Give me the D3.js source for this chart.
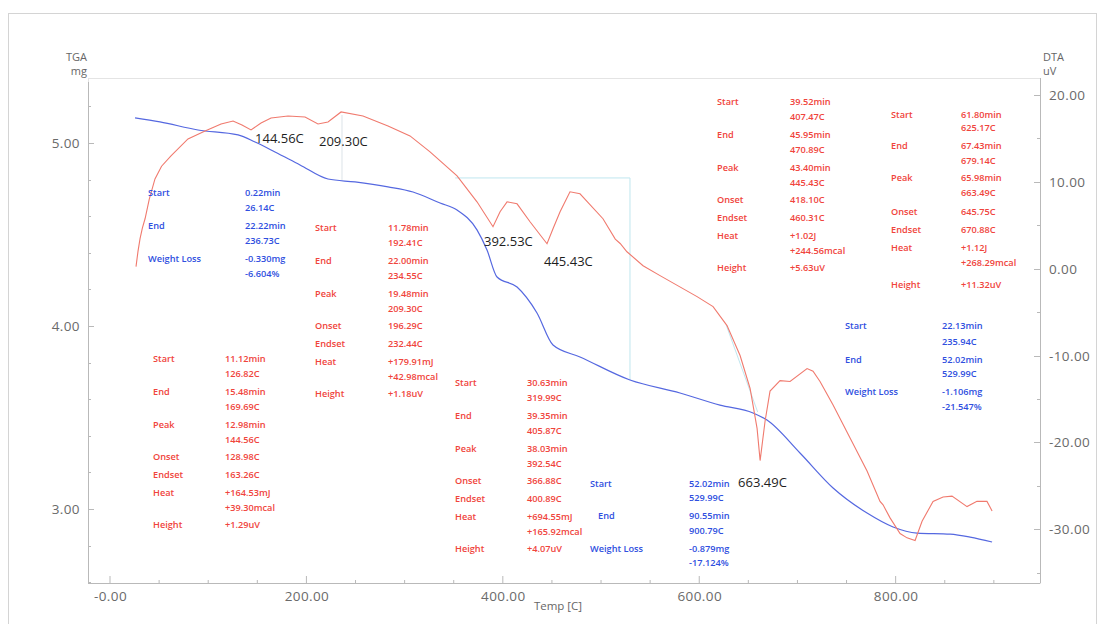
<!DOCTYPE html>
<html><head><meta charset="utf-8">
<script src="https://cdn.jsdelivr.net/npm/d3@7/dist/d3.min.js"></script>
<style>body{margin:0;background:#fff} svg{display:block}</style>
</head><body>
<svg id="c" width="1102" height="624"></svg>
<script>
// ---------- data ----------
const tgaTemp = [26.0,51.4,90.1,130.9,148.2,168.5,194.0,222.5,250.0,283.6,309.1,336.6,353.9,374.2,384.4,394.6,415.0,435.3,451.6,479.1,530.0,580.9,621.6,655.3,669.5,703.1,736.8,771.4,797.9,822.3,856.0,876.3,898.7];
const tgaMass = [5.137,5.115,5.071,5.044,5.005,4.951,4.880,4.803,4.787,4.760,4.732,4.672,4.634,4.525,4.415,4.268,4.213,4.071,3.896,3.831,3.705,3.634,3.568,3.525,3.486,3.306,3.115,2.978,2.902,2.869,2.863,2.847,2.820];
const dtaTemp = [27.0,29.0,31.1,33.5,36.2,40.5,46.3,53.0,62.6,79.9,97.3,113.6,125.8,134.9,144.1,154.3,164.5,181.8,199.1,212.3,222.5,235.8,258.1,283.6,306.0,326.4,353.9,374.2,390.5,397.7,404.8,415.0,428.2,445.5,451.6,458.8,468.9,479.1,502.5,515.0,520.0,526.9,543.3,560.6,598.3,614.6,628.8,642.1,652.3,659.4,662.5,667.5,672.6,682.8,693.0,710.3,716.4,723.5,736.8,754.1,771.4,784.6,787.7,794.8,805.0,812.1,820.3,827.4,838.6,848.8,857.9,873.2,883.3,893.5,898.7];
const dtaSignal = [0.23,2.0,3.45,4.7,5.75,8.0,10.34,11.8,12.99,14.94,15.86,16.67,17.01,16.55,15.98,16.78,17.36,17.59,17.47,16.67,16.90,18.05,17.59,16.44,15.29,13.45,10.69,7.70,4.83,6.55,7.70,7.47,5.40,2.87,4.60,6.55,8.85,8.62,5.75,3.40,2.90,1.95,0.34,-0.80,-3.22,-4.37,-6.55,-10.0,-13.8,-18.4,-22.1,-17.6,-14.1,-12.9,-13.0,-11.5,-11.8,-13.0,-15.7,-19.5,-23.3,-26.8,-27.2,-28.7,-30.5,-31.0,-31.3,-29.1,-26.8,-26.3,-26.2,-27.4,-26.8,-26.8,-27.9];

const xTicks = [0,200,400,600,800];
const xTickLabels = ["-0.00","200.00","400.00","600.00","800.00"];
const tgaTicks = [3,4,5];
const tgaTickLabels = ["3.00","4.00","5.00"];
const dtaTicks = [-30,-20,-10,0,10,20];
const dtaTickLabels = ["-30.00","-20.00","-10.00","0.00","10.00","20.00"];

const peakTemps = [144.1,212.3,390.5,445.5,662.5];
const peakSignals = [15.98,16.67,4.83,2.87,-22.1];
const peakLabels = ["144.56C","209.30C","392.53C","445.43C","663.49C"];

const dtaRowNames = ["Start","","End","","Peak","","Onset","Endset","Heat","","Height"];
const tgaRowNames = ["Start","","End","","Weight Loss",""];
const blockA = ["0.22min","26.14C","22.22min","236.73C","-0.330mg","-6.604%"];
const blockB = ["11.78min","192.41C","22.00min","234.55C","19.48min","209.30C","196.29C","232.44C","+179.91mJ","+42.98mcal","+1.18uV"];
const blockC = ["11.12min","126.82C","15.48min","169.69C","12.98min","144.56C","128.98C","163.26C","+164.53mJ","+39.30mcal","+1.29uV"];
const blockD = ["30.63min","319.99C","39.35min","405.87C","38.03min","392.54C","366.88C","400.89C","+694.55mJ","+165.92mcal","+4.07uV"];
const blockE = ["52.02min","529.99C","90.55min","900.79C","-0.879mg","-17.124%"];
const blockF = ["39.52min","407.47C","45.95min","470.89C","43.40min","445.43C","418.10C","460.31C","+1.02J","+244.56mcal","+5.63uV"];
const blockG = ["61.80min","625.17C","67.43min","679.14C","65.98min","663.49C","645.75C","670.88C","+1.12J","+268.29mcal","+11.32uV"];
const blockH = ["22.13min","235.94C","52.02min","529.99C","-1.106mg","-21.547%"];

// ---------- layout ----------
const L = 88, R = 1040, T = 78, B = 583;
const svg = d3.select("#c");
const x = d3.scaleLinear().domain([-21.9, 947.5]).range([L, R]);
const yL = d3.scaleLinear().domain([2.596, 5.355]).range([B, T]);
const yR = d3.scaleLinear().domain([-36.2, 21.96]).range([B, T]);

const RED = "#f0443c", BLUE = "#2f4fe0";
const font = "'Open Sans', 'Noto Sans', sans-serif";

// outer frame
svg.append("rect").attr("x", 8.5).attr("y", 13.5).attr("width", 1088).attr("height", 620)
  .attr("fill", "none").attr("stroke", "#d4d4d4");

// plot box
const g = svg.append("g");
const axisCol = "#b9b9b9";
g.append("rect").attr("x", L + 0.5).attr("y", T + 0.5).attr("width", R - L).attr("height", B - T)
  .attr("fill", "none").attr("stroke", "#e4e4e4");
g.append("line").attr("x1", L + 0.5).attr("x2", L + 0.5).attr("y1", T + 4).attr("y2", B).attr("stroke", axisCol);
g.append("line").attr("x1", L).attr("x2", R).attr("y1", B + 0.5).attr("y2", B + 0.5).attr("stroke", axisCol);
g.append("line").attr("x1", R + 0.5).attr("x2", R + 0.5).attr("y1", T).attr("y2", B).attr("stroke", axisCol);

// ticks (inward)
const xMinor = d3.range(0, 950, 50);
g.selectAll(".xm").data(xMinor).join("line")
  .attr("x1", d => x(d) + 0.5).attr("x2", d => x(d) + 0.5)
  .attr("y1", B).attr("y2", d => B - (d % 200 === 0 ? 7 : 3)).attr("stroke", axisCol);
const lMinor = d3.range(2.6, 5.35, 0.2);
g.selectAll(".lm").data(lMinor).join("line")
  .attr("x1", L).attr("x2", d => L + (Math.abs(d - Math.round(d)) < 1e-6 ? 6 : 3))
  .attr("y1", d => Math.round(yL(d)) + 0.5).attr("y2", d => Math.round(yL(d)) + 0.5).attr("stroke", axisCol);
const rMinor = d3.range(-35, 22, 5);
g.selectAll(".rm").data(rMinor).join("line")
  .attr("x1", R).attr("x2", d => R - (d % 10 === 0 ? 6 : 3))
  .attr("y1", d => Math.round(yR(d)) + 0.5).attr("y2", d => Math.round(yR(d)) + 0.5).attr("stroke", axisCol);

// tick labels
const tickStyle = s => s.attr("font-family", font).attr("font-size", 13.5).attr("fill", "#6a6a6a").attr("letter-spacing", 0.4);
g.selectAll(".xl").data(xTicks).join("text")
  .attr("x", d => x(d) + 1).attr("y", B + 18).attr("text-anchor", "middle")
  .text((d, i) => xTickLabels[i]).call(tickStyle);
g.selectAll(".ll").data(tgaTicks).join("text")
  .attr("x", L - 8).attr("y", d => yL(d) + 5).attr("text-anchor", "end")
  .text((d, i) => tgaTickLabels[i]).call(tickStyle);
g.selectAll(".rl").data(dtaTicks).join("text")
  .attr("x", R + 9).attr("y", d => yR(d) + 5).attr("text-anchor", "start")
  .text((d, i) => dtaTickLabels[i]).call(tickStyle);

// axis titles
const titleStyle = s => s.attr("font-family", font).attr("font-size", 11).attr("fill", "#666");
svg.append("text").attr("x", L - 1).attr("y", 61).attr("text-anchor", "end").text("TGA").call(titleStyle);
svg.append("text").attr("x", L - 1).attr("y", 75).attr("text-anchor", "end").text("mg").call(titleStyle);
svg.append("text").attr("x", R + 3).attr("y", 61).text("DTA").call(titleStyle);
svg.append("text").attr("x", R + 3).attr("y", 75).text("uV").call(titleStyle);
svg.append("text").attr("x", 558).attr("y", 610).attr("text-anchor", "middle").text("Temp  [C]").call(titleStyle).attr("font-size", 11.5);

// marker lines (analysis baselines)
const mk = g.append("g").attr("stroke", "#bfe6ef").attr("stroke-width", 1).attr("fill", "none");
mk.append("line").attr("x1", x(236.73)).attr("x2", x(236.73)).attr("y1", yL(5.153)).attr("y2", yL(4.798)).attr("stroke", "#dde3e8");
mk.append("line").attr("x1", x(352)).attr("x2", x(529.99)).attr("y1", yL(4.809)).attr("y2", yL(4.809));
mk.append("line").attr("x1", x(529.99)).attr("x2", x(529.99)).attr("y1", yL(4.809)).attr("y2", yL(3.705));
mk.append("line").attr("x1", x(628)).attr("x2", x(660)).attr("y1", yR(-6.5)).attr("y2", yR(-16.5));

// curves
const tga = tgaTemp.map((t, i) => [t, tgaMass[i]]);
const dta = dtaTemp.map((t, i) => [t, dtaSignal[i]]);
g.append("path").datum(tga)
  .attr("d", d3.line().x(d => x(d[0])).y(d => yL(d[1])).curve(d3.curveMonotoneX))
  .attr("fill", "none").attr("stroke", "#5568e0").attr("stroke-width", 1.2);
g.append("path").datum(dta)
  .attr("d", d3.line().x(d => x(d[0])).y(d => yR(d[1])))
  .attr("fill", "none").attr("stroke", "#f07a6e").attr("stroke-width", 1.1);

// peak labels
const peakDx = [4, 1, -9, -3, -22];
const peakDy = [13, 22, 19, 22, 26];
g.selectAll(".pk").data(peakTemps).join("text")
  .attr("x", (d, i) => x(d) + peakDx[i]).attr("y", (d, i) => yR(peakSignals[i]) + peakDy[i])
  .attr("font-family", font).attr("font-size", 13).attr("fill", "#1e1e1e")
  .text((d, i) => peakLabels[i]);

// annotation blocks
const dtaOff = [0, 15, 33, 48, 66, 81, 98, 116, 134, 149, 166];
const tgaOff = [0, 15, 33, 48, 66, 81];
function block(names, vals, offs, lx, vx, y0, color, lxAdj) {
  const bg = svg.append("g").attr("font-family", font).attr("font-size", 9.2)
    .attr("font-weight", 600).attr("fill", color);
  names.forEach((n, i) => {
    if (n) bg.append("text").attr("x", lx + (lxAdj && lxAdj[i] ? lxAdj[i] : 0)).attr("y", y0 + offs[i] + 3.3).text(n);
  });
  vals.forEach((v, i) => {
    bg.append("text").attr("x", vx).attr("y", y0 + offs[i] + 3.3).text(v);
  });
}
block(tgaRowNames, blockA, tgaOff, 148, 245, 193, BLUE);
block(dtaRowNames, blockB, dtaOff, 315, 388, 228, RED);
block(dtaRowNames, blockC, dtaOff, 153, 225, 359, RED);
block(dtaRowNames, blockD, dtaOff, 455, 527, 383, RED);
block(tgaRowNames, blockE, [0, 14, 32, 47, 65, 79], 590, 689, 484, BLUE, [0, 0, 8, 0, 0, 0]);
block(dtaRowNames, blockF, dtaOff, 717, 790, 102, RED);
block(dtaRowNames, blockG, [0, 13, 31, 46, 63, 78, 97, 115, 133, 148, 170], 891, 961, 115, RED);
block(tgaRowNames, blockH, [0, 16, 34, 48, 66, 81], 845, 942, 326, BLUE);
</script>
</body></html>
